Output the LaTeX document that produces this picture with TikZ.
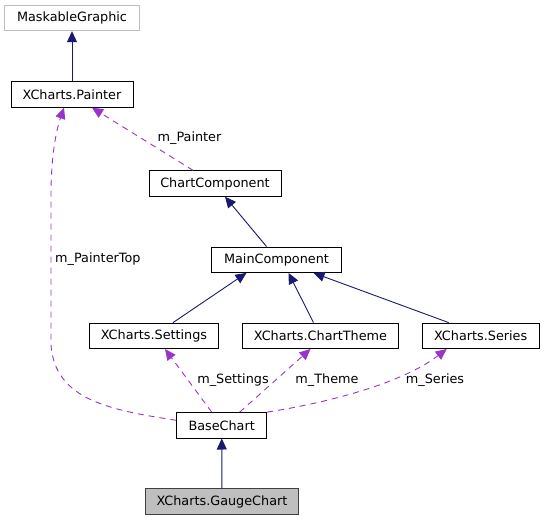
\documentclass[tikz,border=0pt]{standalone}
\usepackage{fontspec}
\setmainfont{DejaVu Sans}
\usepackage{xcolor}
\usepackage{tikz}
\usetikzlibrary{arrows.meta}
\definecolor{inhnavy}{HTML}{191970}
\definecolor{usepurple}{HTML}{9A32CD}
\definecolor{boxgray}{HTML}{BFBFBF}

\begin{document}
\begin{tikzpicture}[x=1pt,y=-1pt,
  cls/.style={draw,line width=0.9pt,minimum height=25.5pt,inner sep=0pt,font=\fontsize{12.8}{15}\selectfont},
  inh/.style={-{Triangle[length=11pt,width=10pt]},inhnavy,line width=0.9pt},
  usage/.style={-{Triangle[length=11pt,width=10pt]},usepurple,line width=0.9pt,dash pattern=on 6pt off 5pt},
  lbl/.style={font=\fontsize{12.8}{15}\selectfont,inner sep=0pt}]
  \useasboundingbox (0,0) rectangle (544,520);
  \node[cls,draw=boxgray,minimum width=135pt] (maskable) at (72,18) {MaskableGraphic};
  \node[cls,minimum width=122pt] (painter) at (72,94.5) {XCharts.Painter};
  \node[cls,minimum width=132pt] (chartcomp) at (215,183.5) {ChartComponent};
  \node[cls,minimum width=129.6pt] (maincomp) at (276.5,259.7) {MainComponent};
  \node[cls,minimum width=129.7pt] (settings) at (154,335.8) {XCharts.Settings};
  \node[cls,minimum width=156.4pt] (theme) at (320.5,335.8) {XCharts.ChartTheme};
  \node[cls,minimum width=116.7pt] (series) at (480.7,335.8) {XCharts.Series};
  \node[cls,minimum width=90pt] (basechart) at (221.7,425.3) {BaseChart};
  \node[cls,draw=black!75,fill=boxgray,minimum width=153.7pt] (gauge) at (222,501.5) {XCharts.GaugeChart};
  \draw[inh] (painter) -- (maskable);
  \draw[inh] ([xshift=-10pt]maincomp.north) -- ([xshift=10pt]chartcomp.south);
  \draw[inh] ([xshift=19pt]settings.north) -- ([xshift=-30pt]maincomp.south);
  \draw[inh] ([xshift=-7pt]theme.north) -- ([xshift=12pt]maincomp.south);
  \draw[inh] ([xshift=-32pt]series.north) -- ([xshift=37pt]maincomp.south);
  \draw[inh] (gauge) -- (basechart);
  \draw[usage] ([xshift=-22pt]chartcomp.north) -- ([xshift=20pt]painter.south);
  \node[lbl] (lpaint) at (189.5,138) {m\_Painter};
  \draw[usage] ([yshift=5pt]basechart.west) .. controls (110,410) and (55,400) .. (51,345)
    -- (51,195) .. controls (51,150) and (58,125) .. ([xshift=-8pt]painter.south);
  \node[lbl,anchor=west] (ptop) at (55,259) {m\_PainterTop};
  \draw[usage] ([xshift=-10pt]basechart.north) -- ([xshift=11pt]settings.south);
  \node[lbl] (lset) at (233,380) {m\_Settings};
  \draw[usage] ([xshift=18pt]basechart.north) -- ([xshift=-10pt]theme.south);
  \node[lbl] (lthm) at (327,380) {m\_Theme};
  \draw[usage] (basechart.north east) .. controls (320,404) and (400,385) .. ([xshift=-34pt]series.south);
  \node[lbl] (lser) at (435,380) {m\_Series};
\end{tikzpicture}
\end{document}
